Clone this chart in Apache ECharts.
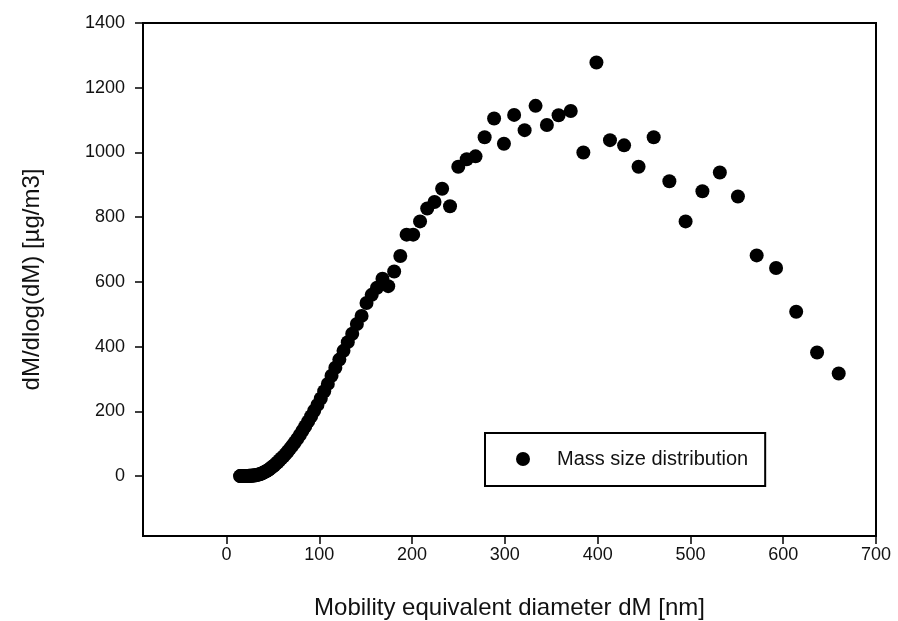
<!DOCTYPE html>
<html>
<head>
<meta charset="utf-8">
<script src="https://cdn.jsdelivr.net/npm/echarts@6/dist/echarts.min.js"></script>
<style>
  html, body { margin: 0; padding: 0; background: #fff; }
  #chart { width: 898px; height: 621px; }
</style>
</head>
<body>
<div id="chart"></div>
<script>
// diameter [nm]
var diameters = [
  14.6, 15.1, 15.7, 16.2, 16.8, 17.5, 18.1, 18.7, 19.4, 20.1,
  20.9, 21.6, 22.4, 23.3, 24.1, 25.0, 25.9, 26.9, 27.9, 28.9,
  29.9, 31.0, 32.2, 33.3, 34.5, 35.8, 37.1, 38.5, 39.9, 41.3,
  42.8, 44.4, 46.0, 47.7, 49.5, 51.3, 53.2, 55.1, 57.1, 59.2,
  61.4, 63.6, 66.0, 68.4, 70.9, 73.5, 76.2, 79.0, 81.9, 84.9,
  88.0, 91.2, 94.5, 98.0, 101.6, 105.3, 109.2, 113.2, 117.3, 121.6,
  126.1, 130.7, 135.5, 140.5, 145.6, 150.9, 156.5, 162.2, 168.1, 174.3,
  180.7, 187.3, 194.1, 201.2, 208.6, 216.3, 224.2, 232.4, 240.9, 249.8,
  258.9, 268.4, 278.2, 288.4, 299.0, 310.0, 321.3, 333.1, 345.3, 357.9,
  371.0, 384.6, 398.7, 413.3, 428.5, 444.1, 460.4, 477.3, 494.8, 512.9,
  531.7, 551.2, 571.4, 592.3, 614.0, 636.5, 659.8
];
// dM/dlog(dM) [ug/m3]
var massValues = [
  0, 0, 0, 0, 0, 0, 0, 0, 0, 0,
  0, 0, 0, 0, 1, 1, 1, 1, 2, 2,
  2, 3, 3, 4, 5, 6, 7, 9, 11, 13,
  15, 18, 21, 25, 29, 33, 38, 43, 49, 55,
  61, 68, 76, 85, 94, 104, 115, 127, 140, 154,
  169, 185, 202, 220, 240, 262, 285, 310, 335, 360,
  387, 414, 440, 470, 495, 535, 560, 582, 610, 587,
  632, 680, 746, 746, 787, 827, 847, 888, 834, 956,
  979, 988, 1047, 1105, 1027, 1116, 1069, 1144, 1085, 1115,
  1128, 1000, 1278, 1038, 1022, 956, 1047, 911, 787, 880,
  938, 864, 682, 643, 508, 382, 317
];
var xTicks = [0, 100, 200, 300, 400, 500, 600, 700];
var yTicks = [0, 200, 400, 600, 800, 1000, 1200, 1400];

var points = diameters.map(function (d, i) { return [d, massValues[i]]; });

var font = 'Liberation Sans, Arial, sans-serif';
var plain = function (v) { return String(v); };
var chart = echarts.init(document.getElementById('chart'));
chart.setOption({
  animation: false,
  backgroundColor: '#fff',
  grid: {
    left: 143, right: 22, top: 23, bottom: 85,
    outerBoundsMode: 'none',
    show: true, borderColor: '#000', borderWidth: 2
  },
  legend: {
    left: 485, top: 433,
    orient: 'horizontal',
    borderColor: '#000', borderWidth: 2, borderRadius: 0,
    padding: [16, 17, 17, 31],
    itemWidth: 14, itemHeight: 14,
    icon: 'circle',
    textStyle: { fontFamily: font, fontSize: 20, color: '#111', padding: [0, 0, 0, 22] },
    data: ['Mass size distribution']
  },
  xAxis: {
    type: 'value', min: -90, max: 700,
    name: 'Mobility equivalent diameter dM [nm]',
    nameLocation: 'middle', nameGap: 60,
    nameTextStyle: { fontFamily: font, fontSize: 24, color: '#111' },
    axisLine: { onZero: false, lineStyle: { color: '#000', width: 2 } },
    axisTick: { customValues: xTicks, length: 8, lineStyle: { color: '#000', width: 1.5 } },
    axisLabel: { customValues: xTicks, formatter: plain, margin: 10, fontFamily: font, fontSize: 18, color: '#111' },
    splitLine: { show: false }
  },
  yAxis: {
    type: 'value', min: -185, max: 1400,
    name: 'dM/dlog(dM) [µg/m3]',
    nameLocation: 'middle', nameGap: 99,
    nameTextStyle: { fontFamily: font, fontSize: 24, color: '#111' },
    axisLine: { onZero: false, lineStyle: { color: '#000', width: 2 } },
    axisTick: { customValues: yTicks, length: 8, lineStyle: { color: '#000', width: 1.5 } },
    axisLabel: { customValues: yTicks, formatter: plain, margin: 18, fontFamily: font, fontSize: 18, color: '#111' },
    splitLine: { show: false }
  },
  series: [{
    name: 'Mass size distribution',
    type: 'scatter',
    symbol: 'circle',
    symbolSize: 14,
    itemStyle: { color: '#000', opacity: 1 },
    data: points
  }]
});
</script>
</body>
</html>
